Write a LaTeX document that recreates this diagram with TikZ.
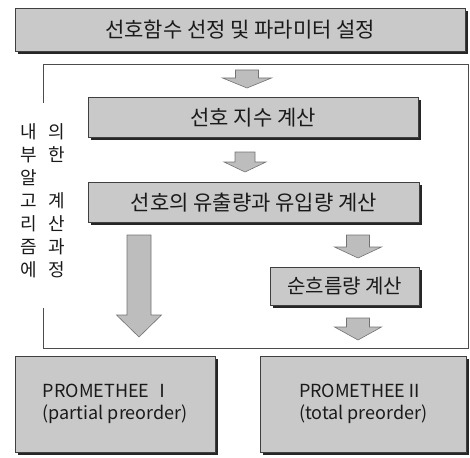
\documentclass[tikz,border=0pt]{standalone}
\usepackage{fontspec}
\setmainfont{Noto Sans CJK KR}
\usetikzlibrary{shadows}
\definecolor{boxgray}{HTML}{C9C9C9}
\definecolor{arrgray}{HTML}{BDBDBD}
\definecolor{inkc}{HTML}{1A1A1A}
\newcommand\blockarr[7]{%
  \coordinate (#1) at (#2,#3);
  \filldraw[arrowsty] ({#2-#6},#3) -- ({#2+#6},#3) -- ({#2+#6},#4) -- ({#2+#7},#4)
    -- (#2,#5) -- ({#2-#7},#4) -- ({#2-#6},#4) -- cycle;}
\begin{document}
\begin{tikzpicture}[x=1pt,y=-1pt,
  box/.style={draw=black!75, line width=0.6pt, fill=boxgray, inner sep=0pt,
    anchor=north west, text=inkc,
    drop shadow={shadow xshift=3pt, shadow yshift=-3pt, fill=black!85, opacity=1}},
  arrowsty/.style={fill=arrgray, draw=black!55, line width=0.6pt},
  kor/.style={font=\fontsize{21}{24}\selectfont},
  korsm/.style={font=\fontsize{20}{24}\selectfont},
  vert/.style={font=\fontsize{18}{20}\selectfont, text=inkc, inner sep=0pt},
  latin/.style={font=\fontsize{18}{22}\selectfont, align=left}]
\useasboundingbox (0,0) rectangle (470,457);
% frame
\draw[black!70, line width=0.6pt] (43,103) -- (43,64) -- (468,64) -- (468,348) -- (43,348) -- (43,308);
% boxes
\node[box, kor, minimum width=450pt, minimum height=43pt] (top) at (15,8) {선호함수 선정 및 파라미터 설정};
\node[box, kor, minimum width=330pt, minimum height=40pt] (pref) at (88,97) {선호 지수 계산};
\node[box, kor, minimum width=331pt, minimum height=40pt] (flow) at (88,182) {선호의 유출량과 유입량 계산};
\node[box, korsm, minimum width=149pt, minimum height=38pt] (net) at (270,267) {순흐름량 계산};
\node[box, latin, minimum width=200pt, minimum height=96pt] (p1) at (15,356) {PROMETHEE Ⅰ\\(partial preorder)};
\node[box, latin, minimum width=206pt, minimum height=96pt] (p2) at (260,356) {PROMETHEEⅡ\\(total preorder)};
% arrows
\blockarr{a1}{247}{70}{78}{88}{11.5}{24.5}
\blockarr{a2}{245}{152}{162}{172}{10}{21}
\blockarr{a5}{139}{235}{315}{337}{12}{22.5}
\blockarr{a3}{358}{235}{247}{258}{11.5}{23.5}
\blockarr{a4}{358}{318}{327}{340}{11.5}{23.5}
% vertical text
\foreach \c [count=\i] in {내,부,알,고,리,즘,에}
  \node[vert] (l\i) at (29,{132+23*(\i-1)}) {\c};
\foreach \c [count=\i] in {의,한,{},계,산,과,정}
  \node[vert] (r\i) at (57,{132+23*(\i-1)}) {\c};
\end{tikzpicture}
\end{document}
